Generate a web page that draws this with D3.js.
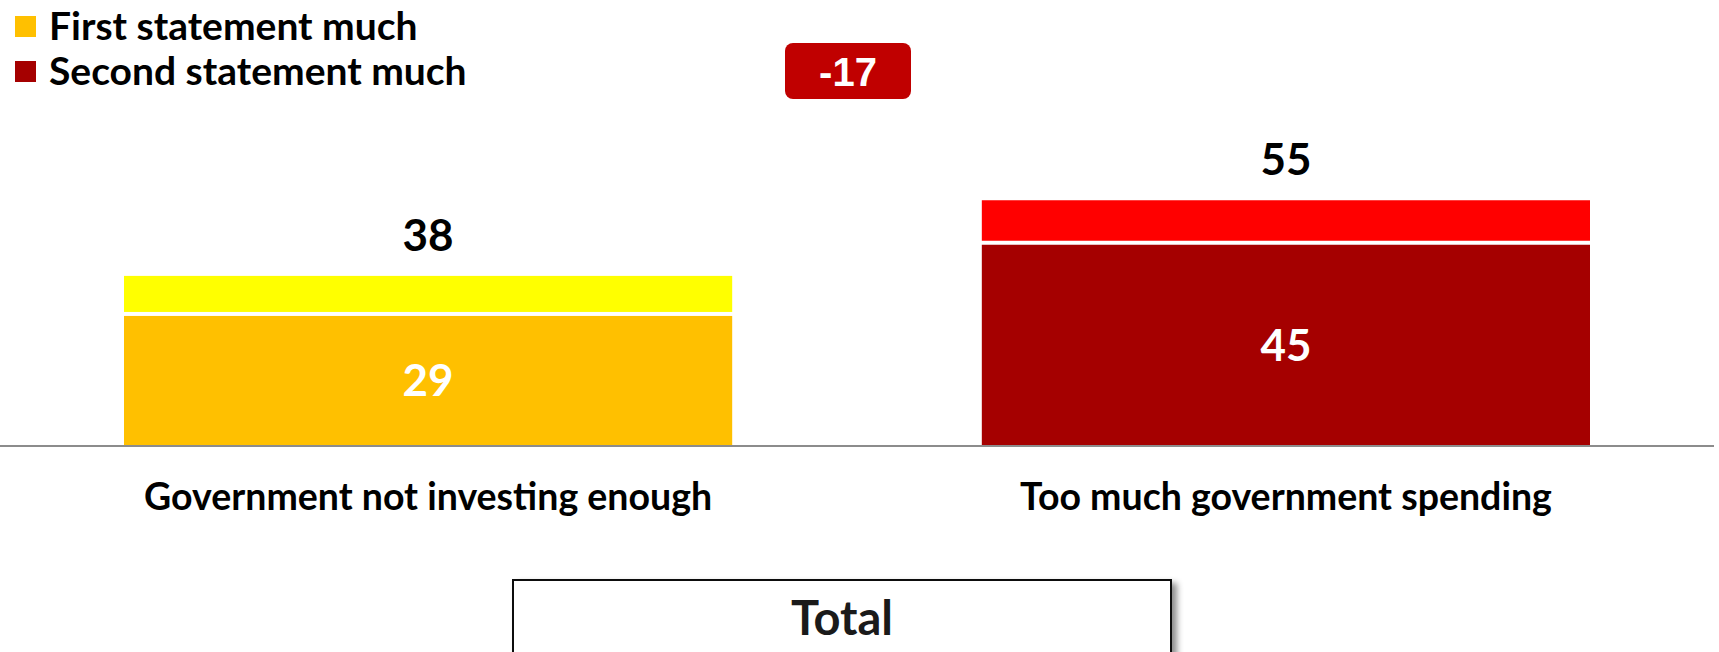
<!DOCTYPE html>
<html>
<head>
<meta charset="utf-8">
<script src="https://cdn.jsdelivr.net/npm/d3@7"></script>
<style>
  html, body { margin: 0; padding: 0; background: #fff; }
  svg { display: block; }
  text { font-family: Lato, "Open Sans", sans-serif; font-weight: 700; }
</style>
</head>
<body>
<svg id="chart" width="1719" height="652"></svg>
<script>
// Categories and values
const categories = ["Government not investing enough", "Too much government spending"];
const totalValues = [38, 55];      // overall share per statement
const strongValues = [29, 45];     // "much" share per statement
const seriesNames = ["First statement much", "Second statement much"];
const strongColors = ["#FFC000", "#A50000"];
const lightColors = ["#FFFF00", "#FF0000"];
const netDifference = -17;
const panelTitle = "Total";

const svg = d3.select("#chart");

const x = d3.scaleBand().domain(categories).range([124, 1590]).paddingInner(0.291).paddingOuter(0);
const y = d3.scaleLinear().domain([0, 100]).range([445, 0]);

const gap = 4;

// Upper (lighter) segment: from the strong value up to the total
svg.append("g").selectAll("rect")
  .data(categories)
  .join("rect")
  .attr("x", d => x(d))
  .attr("width", x.bandwidth())
  .attr("y", (d, i) => y(totalValues[i]))
  .attr("height", (d, i) => y(strongValues[i]) - y(totalValues[i]) - gap)
  .attr("fill", (d, i) => lightColors[i]);

// Lower (strong) segment
svg.append("g").selectAll("rect")
  .data(categories)
  .join("rect")
  .attr("x", d => x(d))
  .attr("width", x.bandwidth())
  .attr("y", (d, i) => y(strongValues[i]))
  .attr("height", (d, i) => y(0) - y(strongValues[i]))
  .attr("fill", (d, i) => strongColors[i]);

// Baseline
svg.append("line")
  .attr("x1", 0).attr("x2", 1714)
  .attr("y1", y(0) + 1).attr("y2", y(0) + 1)
  .attr("stroke", "#8c8c8c").attr("stroke-width", 2);

// Total labels above bars
svg.append("g").selectAll("text")
  .data(categories)
  .join("text")
  .attr("x", d => x(d) + x.bandwidth() / 2)
  .attr("y", (d, i) => y(totalValues[i]) - 25)
  .attr("text-anchor", "middle")
  .attr("font-size", 44)
  .attr("fill", "#000")
  .text((d, i) => totalValues[i]);

// Strong value labels inside bars
svg.append("g").selectAll("text")
  .data(categories)
  .join("text")
  .attr("x", d => x(d) + x.bandwidth() / 2)
  .attr("y", (d, i) => (y(strongValues[i]) + y(0)) / 2 + 16)
  .attr("text-anchor", "middle")
  .attr("font-size", 44)
  .attr("fill", "#fff")
  .text((d, i) => strongValues[i]);

// Category axis
const axis = svg.append("g")
  .attr("transform", `translate(0,${y(0)})`)
  .call(d3.axisBottom(x).tickSize(0).tickPadding(0));
axis.select(".domain").remove();
axis.selectAll("text")
  .attr("y", 65)
  .attr("dy", 0)
  .attr("font-size", 37.5)
  .attr("fill", "#000");

// Legend
const legend = svg.append("g");
seriesNames.forEach((name, i) => {
  const gy = 16 + i * 45;
  legend.append("rect").attr("x", 15).attr("y", gy).attr("width", 21).attr("height", 21)
    .attr("fill", strongColors[i]);
  legend.append("text").attr("x", 49).attr("y", gy + 23.5).attr("font-size", 39)
    .attr("fill", "#000").text(name);
});

// Net difference badge
const badge = svg.append("g");
badge.append("rect").attr("x", 785).attr("y", 43).attr("width", 126).attr("height", 56)
  .attr("rx", 8).attr("fill", "#C00000");
badge.append("text").attr("x", 848).attr("y", 86).attr("text-anchor", "middle")
  .style("font-family", "'Liberation Sans', Arial, sans-serif").attr("font-size", 40)
  .attr("fill", "#fff").text(netDifference);

// Panel title box
const defs = svg.append("defs");
const f = defs.append("filter").attr("id", "shadow").attr("x", "-5%").attr("y", "-20%").attr("width", "115%").attr("height", "160%");
f.append("feDropShadow").attr("dx", 5).attr("dy", 4).attr("stdDeviation", 3)
  .attr("flood-color", "#000").attr("flood-opacity", 0.45);
svg.append("rect").attr("x", 513).attr("y", 580).attr("width", 658).attr("height", 110)
  .attr("fill", "#fff").attr("stroke", "#111").attr("stroke-width", 2)
  .attr("filter", "url(#shadow)");
svg.append("text").attr("x", 842).attr("y", 635).attr("text-anchor", "middle")
  .attr("font-size", 47).attr("fill", "#1a1a1a").text(panelTitle);
</script>
</body>
</html>
